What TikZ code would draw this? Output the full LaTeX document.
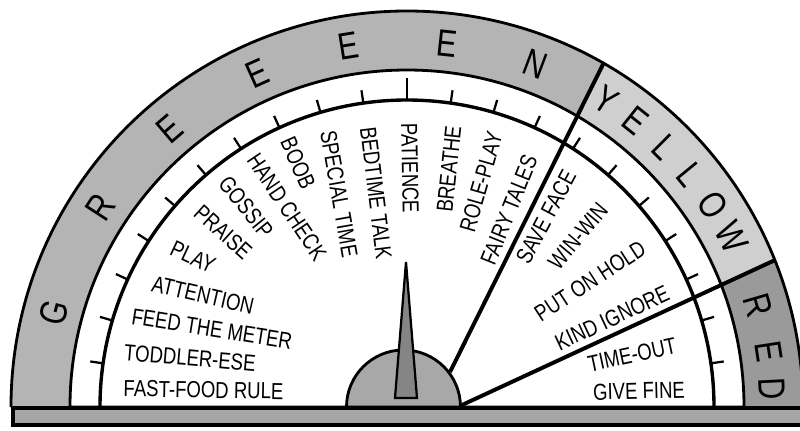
\documentclass[tikz,border=0pt]{standalone}
\usepackage{fontspec}
\setmainfont[FakeStretch=0.8]{Liberation Sans}
\definecolor{greenBand}{HTML}{B4B4B4}
\definecolor{yellowBand}{HTML}{CFCFCF}
\definecolor{redBand}{HTML}{9A9A9A}
\definecolor{hubGray}{HTML}{A8A8A8}
\definecolor{needleGray}{HTML}{858585}
\definecolor{baseGray}{HTML}{A6A6A6}

\begin{document}
\begin{tikzpicture}[
    x=0.025cm, y=0.025cm,
    every node/.style={font=\fontsize{16.5}{18}\selectfont, inner sep=0pt},
    bandletter/.style={font=\fontsize{27}{30}\selectfont},
    rim/.style={draw=black, line width=2pt},
    scalearc/.style={draw=black, line width=2.4pt},
    divider/.style={draw=black, line width=2.8pt},
    tickmark/.style={draw=black, line width=1.6pt},
]
\useasboundingbox (-407,-23) rectangle (393,407);
\coordinate (C) at (0,0);

% === BANDS ===
\fill[greenBand] (0:396) arc (0:180:396) -- cycle;
\begin{scope}
    \clip (0:396) arc (0:180:396) -- cycle;
    \fill[yellowBand] (43,35) -- (230,411) -- (420,411) -- (420,0) -- cycle;
    \fill[redBand] (55,2) -- (420,171) -- (420,0) -- cycle;
\end{scope}

% === DIAL FACE ===
\draw[rim, fill=white] (0:337) arc (0:180:337) -- cycle;
\draw[rim] (0:396) arc (0:180:396);

% === DIVIDERS (hub to rim) ===
\coordinate (ystart) at (43,35);
\coordinate (yend) at (230,411);
\coordinate (rstart) at (55,2);
\coordinate (rend) at (420,171);
\begin{scope}
    \clip (0:396) arc (0:180:396) -- cycle;
    \draw[divider] (ystart) -- (yend);
    \draw[divider] (rstart) -- (rend);
\end{scope}

% === SCALE ===
\draw[scalearc] (0:307) arc (0:180:307);
\foreach \k in {1,...,21}
    \draw[tickmark] ({\k*180/22}:307) -- ({\k*180/22}:320);
\draw[tickmark] (90:307) -- (90:329);

% === HUB AND NEEDLE ===
\draw[rim, fill=hubGray] (53.5,0) arc (0:180:57) -- cycle;
\draw[rim, line width=1.6pt, fill=needleGray] (-12,9) -- (-1,145) -- (10,9) -- cycle;

% === BASE STRIP ===
\draw[rim, line width=2.4pt, fill=baseGray] (-394,-18) rectangle (420,-1);

% === BAND LETTERS ===
\node[bandletter, rotate=75] (gG) at (165:366) {G};
\node[bandletter, rotate=57] (gR) at (147:366) {R};
\node[bandletter, rotate=40.5] (gE1) at (130.5:366) {E};
\node[bandletter, rotate=24.2] (gE2) at (114.2:366) {E};
\node[bandletter, rotate=9.2] (gE3) at (99.2:366) {E};
\node[bandletter, rotate=-6.2] (gE4) at (83.8:366) {E};
\node[bandletter, rotate=-20.6] (gN) at (69.4:366) {N};

\node[bandletter, rotate=-32.9] (yY) at (57.1:366) {Y};
\node[bandletter, rotate=-38.6] (yE) at (51.4:366) {E};
\node[bandletter, rotate=-44.8] (yL1) at (45.2:366) {L};
\node[bandletter, rotate=-50.6] (yL2) at (39.4:366) {L};
\node[bandletter, rotate=-56.6] (yO) at (33.4:366) {O};
\node[bandletter, rotate=-62.4] (yW) at (27.6:366) {W};

\node[bandletter, rotate=-73.8] (rR) at (16.2:366) {R};
\node[bandletter, rotate=-81.2] (rE) at (8.8:366) {E};
\node[bandletter, rotate=-87.2] (rD) at (2.8:366) {D};

% === GREEN SIDE LABELS ===
\node[rotate=-1] (fastfood) at (-203.5,17) {FAST-FOOD RULE};
\node[rotate=-5] (toddler) at (-217,49) {TODDLER-ESE};
\node[rotate=-9] (feedmeter) at (-195,78) {FEED THE METER};
\node[rotate=-13] (attention) at (-204,112) {ATTENTION};
\node[rotate=-25] (play) at (-214,150) {PLAY};
\node[rotate=-42] (praise) at (-184,175) {PRAISE};
\node[rotate=-51] (gossip) at (-161,200) {GOSSIP};
\node[rotate=-56] (handcheck) at (-120,200) {HAND CHECK};
\node[rotate=-66] (boob) at (-109,244) {BOOB};
\node[rotate=-80] (specialtime) at (-68,213) {SPECIAL TIME};
\node[rotate=-83] (bedtimetalk) at (-31,214) {BEDTIME TALK};
\node[rotate=-89] (patience) at (3,239) {PATIENCE};
\node[rotate=84] (breathe) at (42,238) {BREATHE};
\node[rotate=74] (roleplay) at (74,225) {ROLE-PLAY};
\node[rotate=68] (fairytales) at (102,197) {FAIRY TALES};

% === YELLOW SIDE LABELS ===
\node[rotate=62] (saveface) at (139,190) {SAVE FACE};
\node[rotate=50] (winwin) at (171,171) {WIN-WIN};
\node[rotate=33] (putonhold) at (183,126) {PUT ON HOLD};
\node[rotate=25] (kindignore) at (205,89) {KIND IGNORE};

% === RED SIDE LABELS ===
\node[rotate=12] (timeout) at (225,52) {TIME-OUT};
\node[rotate=1.5] (givefine) at (232,16) {GIVE FINE};
\end{tikzpicture}
\end{document}
